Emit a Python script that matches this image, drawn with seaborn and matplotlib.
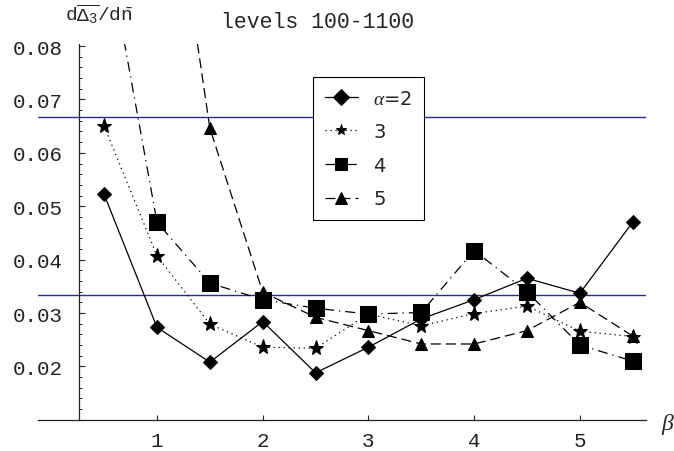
import matplotlib
matplotlib.use("Agg")
import matplotlib.pyplot as plt
import seaborn as sns
import pandas as pd
import numpy as np

# beta values and one curve per alpha
beta = [0.5, 1.0, 1.5, 2.0, 2.5, 3.0, 3.5, 4.0, 4.5, 5.0, 5.5]
alpha2 = [0.0522, 0.0273, 0.0208, 0.0284, 0.0188, 0.0236, 0.0289, 0.0325, 0.0365, 0.0337, 0.0470]
alpha3 = [0.0650, 0.0407, 0.0279, 0.0236, 0.0234, 0.0298, 0.0276, 0.0299, 0.0313, 0.0266, 0.0256]
alpha4 = [0.1015, 0.0470, 0.0356, 0.0325, 0.0309, 0.0298, 0.0301, 0.0417, 0.0340, 0.0240, 0.0210]
alpha5 = [None, 0.1320, 0.0646, 0.0339, 0.0292, 0.0267, 0.0242, 0.0242, 0.0267, 0.0320, 0.0257]
series_names = ["2", "3", "4", "5"]
legend_labels = [r"$\alpha$=2", "3", "4", "5"]
ref_levels = [1 / 15, 1 / 30]

rows = []
for name, vals in zip(series_names, [alpha2, alpha3, alpha4, alpha5]):
    for b, v in zip(beta, vals):
        if v is not None:
            rows.append({"beta": b, "val": v, "alpha": name})
df = pd.DataFrame(rows)

sns.set_style("white")
mono = "Liberation Mono"
plt.rcParams["mathtext.fontset"] = "custom"
plt.rcParams["mathtext.rm"] = "Liberation Mono"
plt.rcParams["mathtext.it"] = "Liberation Serif:italic"

fig = plt.figure(figsize=(6.74, 4.52), dpi=100)
ax = fig.add_axes([38 / 674, 1 - 420.8 / 452, 608 / 674, 375.9 / 452])

# reference lines
for lv in ref_levels:
    ax.axhline(lv, color="#2a2a9a", lw=1.0, zorder=1)

sns.lineplot(
    data=df, x="beta", y="val", style="alpha", color="black",
    markers={"2": "D", "3": "*", "4": "s", "5": "^"},
    dashes={"2": "", "3": (1, 3), "4": (8, 4, 1, 4), "5": (8, 4)},
    markersize=8, markeredgecolor="black", lw=0.9, sort=False,
    estimator=None, ax=ax, legend=True,
)
sizes = {"2": 7, "3": 11, "4": 11, "5": 9}
for line, name in zip(ax.lines[len(ref_levels):], series_names):
    line.set_markersize(sizes[name])

ax.set_xlim(-0.126, 5.626)
ax.set_ylim(0.01, 0.0804)

for s in ["top", "right"]:
    ax.spines[s].set_visible(False)
ax.spines["left"].set_position(("data", 0.265))
ax.spines["left"].set_bounds(0.01, 0.0804)
ax.spines["bottom"].set_position(("data", 0.01))
for s in ["left", "bottom"]:
    ax.spines[s].set_color("#222222")
    ax.spines[s].set_linewidth(0.9)

ax.set_xticks([1, 2, 3, 4, 5])
ax.set_xticklabels(["1", "2", "3", "4", "5"], fontfamily=mono, fontsize=15)
yt = [0.02, 0.03, 0.04, 0.05, 0.06, 0.07, 0.08]
ax.set_yticks(yt)
ax.set_yticklabels([f"{v:.2f}" for v in yt], fontfamily=mono, fontsize=15)
ax.set_yticks(np.arange(0.012, 0.0795, 0.002), minor=True)
ax.tick_params(axis="y", which="major", direction="in", length=4, width=0.8, pad=12, left=True)
ax.tick_params(axis="y", which="minor", direction="in", length=2.2, width=0.7, left=True)
ax.tick_params(axis="x", which="major", direction="in", length=3.5, width=0.8, pad=8, bottom=True)
for t in ax.get_xticklabels() + ax.get_yticklabels():
    t.set_color("#222222")
ax.set_xlabel("")
ax.set_ylabel("")

handles, _ = ax.get_legend_handles_labels()
handles = handles[-4:]
leg = ax.legend(handles, legend_labels, loc="upper left",
                bbox_to_anchor=(313 / 674, 1 - 78 / 452), bbox_transform=fig.transFigure,
                borderaxespad=0, fancybox=False, frameon=True, edgecolor="black",
                fontsize=14, handlelength=1.7, labelspacing=0.75, borderpad=0.6,
                handletextpad=0.8)
leg.get_frame().set_linewidth(0.8)
leg.get_frame().set_alpha(1)

fig.text(99 / 674, 1 - 15 / 452, r"$\mathrm{d}\overline{\Delta_3}/\mathrm{d}\bar{\mathrm{n}}$",
         ha="center", va="center", fontsize=14)
fig.text(318 / 674, 1 - 23 / 452, "levels 100-1100", ha="center", va="center",
         fontfamily=mono, fontsize=15.5)
fig.text(668 / 674, 1 - 425 / 452, r"$\beta$", ha="center", va="center", fontsize=17)

fig.savefig("out.png", dpi=100)
